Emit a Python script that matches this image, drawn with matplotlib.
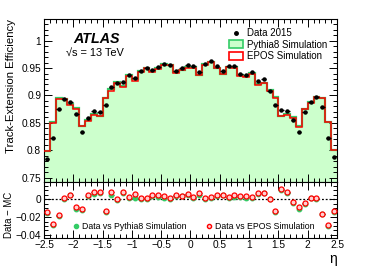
import numpy as np
import matplotlib
matplotlib.use("Agg")
import matplotlib.pyplot as plt
from matplotlib.ticker import MultipleLocator, FixedLocator, FuncFormatter
from matplotlib.lines import Line2D
from matplotlib.patches import Patch

plt.rcParams["font.family"] = ["Liberation Sans", "DejaVu Sans"]
plt.rcParams["axes.unicode_minus"] = True

# eta binning: 50 bins of 0.1 from -2.5 to 2.5
edges = np.round(np.arange(-2.5, 2.51, 0.1), 2)
centers = edges[:-1] + 0.05

data_2015 = [
    0.784, 0.822, 0.876, 0.894, 0.888, 0.867, 0.833, 0.858, 0.872, 0.870,
    0.882, 0.916, 0.923, 0.924, 0.938, 0.931, 0.945, 0.951, 0.947, 0.952,
    0.958, 0.956, 0.945, 0.950, 0.956, 0.953, 0.943, 0.957, 0.963, 0.954,
    0.944, 0.954, 0.954, 0.939, 0.937, 0.942, 0.926, 0.930, 0.909, 0.882,
    0.873, 0.872, 0.855, 0.833, 0.870, 0.888, 0.898, 0.879, 0.822, 0.787,
]
pythia8 = [
    0.7990, 0.8510, 0.8950, 0.8940, 0.8840, 0.8780, 0.8450, 0.8550, 0.8660, 0.8630,
    0.8960, 0.9110, 0.9245, 0.9170, 0.9370, 0.9295, 0.9445, 0.9505, 0.9440, 0.9500,
    0.9565, 0.9560, 0.9420, 0.9470, 0.9515, 0.9520, 0.9380, 0.9570, 0.9615, 0.9505,
    0.9400, 0.9525, 0.9515, 0.9370, 0.9355, 0.9410, 0.9200, 0.9235, 0.9095, 0.8965,
    0.8633, 0.8655, 0.8598, 0.8440, 0.8756, 0.8873, 0.8980, 0.8960, 0.8520, 0.8010,
]
epos = [
    0.7980, 0.8500, 0.8940, 0.8930, 0.8830, 0.8760, 0.8440, 0.8535, 0.8645, 0.8620,
    0.8950, 0.9080, 0.9235, 0.9160, 0.9360, 0.9255, 0.9435, 0.9500, 0.9425, 0.9480,
    0.9550, 0.9550, 0.9410, 0.9465, 0.9500, 0.9508, 0.9367, 0.9560, 0.9604, 0.9495,
    0.9390, 0.9515, 0.9500, 0.9355, 0.9340, 0.9395, 0.9195, 0.9230, 0.9090, 0.8953,
    0.8623, 0.8645, 0.8587, 0.8420, 0.8748, 0.8865, 0.8970, 0.8955, 0.8510, 0.8005,
]

data = np.array(data_2015)
diff_py = data - np.array(pythia8)
diff_ep = data - np.array(epos)

fill_green = "#ccffcc"
line_green = "#33cc66"
red = "#ff0000"
fs = 7.3


def root_fmt(v, pos):
    s = f"{v:.2f}".rstrip("0").rstrip(".")
    if s in ("-0", ""):
        s = "0"
    return s.replace("-", "\u2212")


fig = plt.figure(figsize=(3.74, 2.69), dpi=100)
ax = fig.add_axes([0.1176, 0.3223, 0.7834, 0.607])
axr = fig.add_axes([0.1176, 0.1164, 0.7834, 0.2059], sharex=ax)

# ---------- top panel ----------
ax.stairs(pythia8, edges, baseline=0, fill=True, color=fill_green, zorder=1)
ax.stairs(pythia8, edges, baseline=None, color=line_green, lw=1.6, zorder=2)
ax.stairs(epos, edges, baseline=None, color=red, lw=1.1, zorder=3)
ax.errorbar(centers, data, xerr=0.04, fmt="o", color="black", ms=2.2,
            elinewidth=0.9, capsize=0, zorder=4)

ax.set_xlim(-2.5, 2.5)
ax.set_ylim(0.7415, 1.0395)
ax.set_ylabel("Track-Extension Efficiency", fontsize=8.2, loc="top", labelpad=4)
ax.yaxis.set_major_locator(FixedLocator([0.75, 0.8, 0.85, 0.9, 0.95, 1.0]))
ax.yaxis.set_minor_locator(MultipleLocator(0.01))
ax.yaxis.set_major_formatter(FuncFormatter(root_fmt))
ax.tick_params(labelbottom=False)

ax.text(0.1, 0.875, "ATLAS", transform=ax.transAxes, fontsize=10.3,
        fontweight="bold", fontstyle="italic", va="center")
ax.text(0.075, 0.79, "\u221as = 13 TeV", transform=ax.transAxes,
        fontsize=7.9, va="center")

handles = [
    Line2D([], [], color="black", marker="o", ms=2.5, lw=0),
    Patch(facecolor=fill_green, edgecolor=line_green, lw=1.2),
    Patch(facecolor="white", edgecolor=red, lw=1.2),
]
ax.legend(handles, ["Data 2015", "Pythia8 Simulation", "EPOS Simulation"],
          loc="upper right", bbox_to_anchor=(0.99, 0.985), frameon=False,
          fontsize=7, handlelength=1.4, handleheight=0.9,
          handletextpad=0.4, labelspacing=0.15, borderpad=0.2)

# ---------- ratio panel ----------
axr.axhline(0, color="black", ls=(0, (1.5, 1.5)), lw=0.9, zorder=1)
axr.errorbar(centers, diff_py, xerr=0.04, fmt="o", ms=3.2, color=line_green,
             mec=line_green, ecolor="#226633", elinewidth=0.7, capsize=0, zorder=2)
axr.errorbar(centers, diff_ep, xerr=0.04, fmt="o", ms=3.6, color=red,
             mfc="#ffd0d0", mec=red, mew=0.9, ecolor="#333333",
             elinewidth=0.7, capsize=0, zorder=3)

axr.set_ylim(-0.043, 0.0186)
axr.yaxis.set_major_locator(MultipleLocator(0.02))
axr.yaxis.set_minor_locator(MultipleLocator(0.005))
axr.yaxis.set_major_formatter(FuncFormatter(root_fmt))
axr.set_ylabel("Data \u2212 MC", fontsize=6.9, loc="bottom", labelpad=1)
axr.xaxis.set_major_locator(MultipleLocator(0.5))
axr.xaxis.set_minor_locator(MultipleLocator(0.1))
axr.xaxis.set_major_formatter(FuncFormatter(root_fmt))
axr.set_xlabel("\u03b7", fontsize=10, loc="right", labelpad=1)

rh = [
    Line2D([], [], color=line_green, marker="o", ms=3, lw=0),
    Line2D([], [], color=red, marker="o", ms=3, mfc="#ffd0d0", lw=0),
]
axr.legend(rh, ["Data vs Pythia8 Simulation", "Data vs EPOS Simulation"],
           loc="lower center", bbox_to_anchor=(0.51, 0.02), ncol=2,
           frameon=False, fontsize=6.3, handlelength=0.8,
           handletextpad=0.3, columnspacing=2.2, borderpad=0.1)

for a in (ax, axr):
    a.tick_params(which="both", direction="in", top=True, right=True,
                  labelsize=fs, width=0.7, pad=2)
    a.tick_params(which="major", length=6)
    a.tick_params(which="minor", length=3)
    for s in a.spines.values():
        s.set_linewidth(0.8)
axr.tick_params(axis="y", which="major", length=5)

fig.savefig("out.png", dpi=100)
